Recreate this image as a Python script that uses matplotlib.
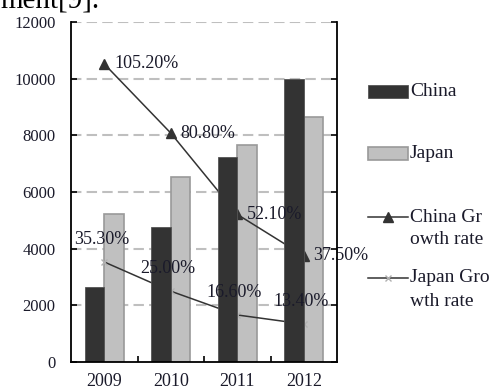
import numpy as np
import matplotlib
matplotlib.use("Agg")
import matplotlib.pyplot as plt
import matplotlib.patches as mpatches
from matplotlib.lines import Line2D

plt.rcParams["font.family"] = ["Liberation Serif", "DejaVu Serif"]

years = ["2009", "2010", "2011", "2012"]
china = [2640, 4750, 7250, 9980]
japan = [5220, 6540, 7650, 8640]
china_rate = [105.20, 80.80, 52.10, 37.50]
japan_rate = [35.30, 25.00, 16.60, 13.40]

W, H = 493, 391
fig = plt.figure(figsize=(W / 100, H / 100), dpi=100)
ax = fig.add_axes([71 / W, 1 - 362 / H, 266 / W, 340 / H])

x = np.arange(len(years))
w = 0.29
dark = "#333333"
light = "#c0c0c0"
txtc = "#1a1a2a"

# rates are drawn on the same scale (x100)
cr = np.array(china_rate) * 100
jr = np.array(japan_rate) * 100

ax.bar(x + w / 2, japan, w, color=light, edgecolor="#999999", linewidth=1.2, zorder=2)
ax.plot(x, cr, color=dark, lw=1.1, marker="^", ms=7, zorder=3)
ax.plot(x, jr, color=dark, lw=1.1, marker="x", ms=4, mec="#b0b0b0", mew=1, zorder=3)
ax.bar(x - w / 2, china, w, color=dark, edgecolor="#555555", linewidth=0.6, zorder=4)

for xi, v, r in zip(x, cr, china_rate):
    ax.annotate(f"{r:.2f}%", (xi, v), xytext=(7, 0), textcoords="offset points",
                ha="left", va="center", fontsize=13, color=txtc, zorder=6)
for xi, v, r in zip(x, jr, japan_rate):
    ax.annotate(f"{r:.2f}%", (xi, v), xytext=(-2, 16), textcoords="offset points",
                ha="center", va="center", fontsize=13, color=txtc, zorder=6)

ax.set_xlim(-0.5, 3.5)
ax.set_ylim(0, 12000)
ax.set_yticks(range(0, 12001, 2000))
ax.set_xticks(x)
ax.set_xticklabels(years)
ax.set_xticks(np.arange(0.5, 3, 1), minor=True)

for y in range(2000, 12001, 2000):
    ax.axhline(y, color="#bfbfbf", lw=1.5, ls=(0, (5, 2.5)), zorder=0.5)

ax.spines["top"].set_visible(False)
for s in ["left", "right", "bottom"]:
    ax.spines[s].set_linewidth(1.3)
    ax.spines[s].set_zorder(7)

ax.tick_params(axis="y", which="major", direction="in", length=4, width=1.2,
               right=True, labelsize=12, labelcolor=txtc, pad=11)
ax.tick_params(axis="x", which="major", length=0, labelsize=13, labelcolor=txtc, pad=8)
ax.tick_params(axis="x", which="minor", direction="in", length=4, width=1.2)

# legend drawn at fixed pixel positions
def fx(px):
    return px / W

def fy(py):
    return 1 - py / H

fig.add_artist(mpatches.Rectangle((fx(368), fy(98)), 40 / W, 13 / H, transform=fig.transFigure,
                                  facecolor=dark, edgecolor="#555555", lw=0.6))
fig.add_artist(mpatches.Rectangle((fx(368), fy(160)), 40 / W, 13 / H, transform=fig.transFigure,
                                  facecolor=light, edgecolor="#999999", lw=1.2))
fig.add_artist(Line2D([fx(368), fx(408)], [fy(217), fy(217)], transform=fig.transFigure,
                      color=dark, lw=1.1))
fig.add_artist(Line2D([fx(388)], [fy(217)], transform=fig.transFigure,
                      color=dark, marker="^", ms=7))
fig.add_artist(Line2D([fx(368), fx(408)], [fy(278), fy(278)], transform=fig.transFigure,
                      color=dark, lw=1.1))
fig.add_artist(Line2D([fx(388)], [fy(278)], transform=fig.transFigure,
                      color="#b0b0b0", marker="x", ms=4, mew=1))

leg_texts = [("China", 92), ("Japan", 154), ("China Gr", 217), ("owth rate", 240),
             ("Japan Gro", 278), ("wth rate", 302)]
for t, py in leg_texts:
    fig.text(fx(410), fy(py), t, fontsize=14, color=txtc, ha="left", va="center")

# cropped caption line from the page above the chart
fig.text(fx(100), fy(7), "ment[9].", fontsize=21, color="black", ha="right", va="baseline")

fig.savefig("out.png", dpi=100)
